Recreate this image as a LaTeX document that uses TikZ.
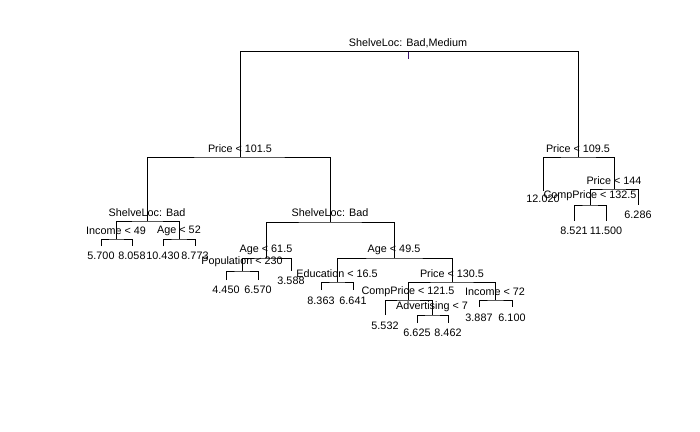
\documentclass[tikz,border=0pt]{standalone}
\usepackage{fontspec}
\setmainfont{Liberation Sans}
\usepackage{xcolor}
\definecolor{stemcol}{RGB}{60,20,110}

\tikzset{
  splitlab/.style={inner sep=0.75pt, font=\fontsize{8.1}{9.7}\selectfont},
  leaflab/.style={inner sep=0.75pt, font=\fontsize{8.1}{9.7}\selectfont},
  branch/.style={line width=0.75pt},
}

\begin{document}
\begin{tikzpicture}[x=0.75pt,y=0.75pt,yscale=-1,xscale=1]
    \path (0,0) rectangle (700,432); %set diagram size 700 x 432

    %Split points
    \coordinate (root) at (408,51.7);
    \coordinate (stem) at (408,59);
    \coordinate (a) at (240,157);
    \coordinate (b) at (578,157);
    \coordinate (aa) at (147,221);
    \coordinate (ab) at (330,222);
    \coordinate (aaa) at (116,239);
    \coordinate (aab) at (179,239);
    \coordinate (aba) at (266,258);
    \coordinate (abb) at (394,258);
    \coordinate (abaa) at (242,271);
    \coordinate (abba) at (337,282);
    \coordinate (abbb) at (452,282);
    \coordinate (abbba) at (408,300);
    \coordinate (abbbb) at (495,300);
    \coordinate (abbbab) at (432,315);
    \coordinate (bb) at (614,189);
    \coordinate (bba) at (590,205);

    %Leaf ends
    \coordinate (l1) at (101,246);
    \coordinate (l2) at (132,246);
    \coordinate (l3) at (163,246);
    \coordinate (l4) at (195,246);
    \coordinate (l5) at (226,280);
    \coordinate (l6) at (258,280);
    \coordinate (l7) at (291,271);
    \coordinate (l8) at (321,290);
    \coordinate (l9) at (353,290);
    \coordinate (l10) at (385,315);
    \coordinate (l11) at (417,323);
    \coordinate (l12) at (448,323);
    \coordinate (l13) at (479,307);
    \coordinate (l14) at (512,307);
    \coordinate (l15) at (543,191);
    \coordinate (l16) at (574,221);
    \coordinate (l17) at (606,221);
    \coordinate (l18) at (638,205);

    %Straight Lines
    \draw [branch] (a) |- (root) -| (b) ;
    \draw [branch] (aa) |- (a) -| (ab) ;
    \draw [branch] (aaa) |- (aa) -| (aab) ;
    \draw [branch] (l1) |- (aaa) -| (l2) ;
    \draw [branch] (l3) |- (aab) -| (l4) ;
    \draw [branch] (aba) |- (ab) -| (abb) ;
    \draw [branch] (abaa) |- (aba) -| (l7) ;
    \draw [branch] (l5) |- (abaa) -| (l6) ;
    \draw [branch] (abba) |- (abb) -| (abbb) ;
    \draw [branch] (l8) |- (abba) -| (l9) ;
    \draw [branch] (abbba) |- (abbb) -| (abbbb) ;
    \draw [branch] (l10) |- (abbba) -| (abbbab) ;
    \draw [branch] (l11) |- (abbbab) -| (l12) ;
    \draw [branch] (l13) |- (abbbb) -| (l14) ;
    \draw [branch] (l15) |- (b) -| (bb) ;
    \draw [branch] (bba) |- (bb) -| (l18) ;
    \draw [branch] (l16) |- (bba) -| (l17) ;
    \draw [branch, stemcol] (root) -- (stem) ;

    % Text Node
    \node [splitlab] (troot) at (408,43) {ShelveLoc: Bad,Medium};
    \node [splitlab] (ta) at (240,149) {Price < 101.5};
    \node [splitlab] (tb) at (578,149) {Price < 109.5};
    \node [splitlab] (taa) at (147,213) {ShelveLoc: Bad};
    \node [splitlab] (tab) at (330,213) {ShelveLoc: Bad};
    \node [splitlab] (taaa) at (116,231) {Income < 49};
    \node [splitlab] (taab) at (179,231) {Age < 52};
    \node [splitlab] (taba) at (266,250) {Age < 61.5};
    \node [splitlab] (tabb) at (394,250) {Age < 49.5};
    \node [splitlab] (tabaa) at (242,262) {Population < 230};
    \node [splitlab] (tabba) at (337,274) {Education < 16.5};
    \node [splitlab] (tabbb) at (452,274) {Price < 130.5};
    \node [splitlab] (tabbba) at (408,292) {CompPrice < 121.5};
    \node [splitlab] (tabbbb) at (495,292) {Income < 72};
    \node [splitlab] (tabbbab) at (432,307) {Advertising < 7};
    \node [splitlab] (tbb) at (614,181) {Price < 144};
    \node [splitlab] (tbba) at (590,196) {CompPrice < 132.5};

    % Leaf Text
    \node [leaflab] (t1) at (101,256) {5.700};
    \node [leaflab] (t2) at (132,256) {8.058};
    \node [leaflab] (t3) at (163,256) {10.430};
    \node [leaflab] (t4) at (195,256) {8.773};
    \node [leaflab] (t5) at (226,290) {4.450};
    \node [leaflab] (t6) at (258,290) {6.570};
    \node [leaflab] (t7) at (291,281) {3.588};
    \node [leaflab] (t8) at (321,301) {8.363};
    \node [leaflab] (t9) at (353,301) {6.641};
    \node [leaflab] (t10) at (385,326) {5.532};
    \node [leaflab] (t11) at (417,333) {6.625};
    \node [leaflab] (t12) at (448,333) {8.462};
    \node [leaflab] (t13) at (479,318) {3.887};
    \node [leaflab] (t14) at (512,318) {6.100};
    \node [leaflab] (t15) at (543,199) {12.020};
    \node [leaflab] (t16) at (574,231) {8.521};
    \node [leaflab] (t17) at (606,231) {11.500};
    \node [leaflab] (t18) at (638,215) {6.286};

\end{tikzpicture}
\end{document}
